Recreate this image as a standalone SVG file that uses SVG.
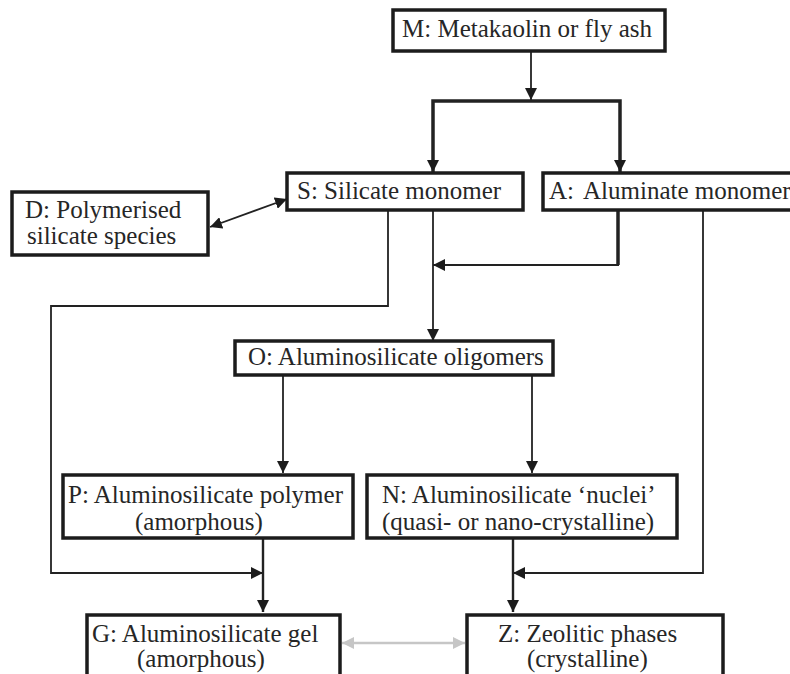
<svg xmlns="http://www.w3.org/2000/svg" width="790" height="674" viewBox="0 0 790 674">
<style>
.box{fill:#fff;stroke:#1c1c1c;stroke-width:3.5}
.t{font-family:"Liberation Serif","Times New Roman",serif;font-size:25px;fill:#262626}
.ln{fill:none;stroke:#222;stroke-width:1.8}
.thk{stroke-width:3.5}
.med{stroke-width:2.4}
.gray{fill:none;stroke:#c6c6c6;stroke-width:2.5}
</style>
<defs>
<marker id="ah" viewBox="0 0 10 10" refX="10" refY="5" markerWidth="12" markerHeight="12" markerUnits="userSpaceOnUse" orient="auto-start-reverse">
<path d="M0,0 L10,5 L0,10 z" fill="#1c1c1c"/>
</marker>
<marker id="ahg" viewBox="0 0 10 10" refX="10" refY="5" markerWidth="12" markerHeight="12" markerUnits="userSpaceOnUse" orient="auto-start-reverse">
<path d="M0,0 L10,5 L0,10 z" fill="#c6c6c6"/>
</marker>
</defs>
<rect width="790" height="674" fill="#fff"/>
<g id="connectors">
<path class="ln" d="M531,51 V100" marker-end="url(#ah)"/>
<path class="ln thk" d="M433,172 V101 H620 V172" marker-start="url(#ah)" marker-end="url(#ah)"/>
<path class="ln" d="M210,227 L287,199" marker-start="url(#ah)" marker-end="url(#ah)"/>
<path class="ln" d="M388,210 V306 H51 V573 H263" marker-end="url(#ah)"/>
<path class="ln" d="M433,210 V341" marker-end="url(#ah)"/>
<path class="ln thk" d="M618,210 V265"/>
<path class="ln" d="M619,265 H433" marker-end="url(#ah)"/>
<path class="ln" d="M703,210 V573 H513" marker-end="url(#ah)"/>
<path class="ln" d="M283,375 V473" marker-end="url(#ah)"/>
<path class="ln" d="M532,375 V473" marker-end="url(#ah)"/>
<path class="ln med" d="M263,538 V612" marker-end="url(#ah)"/>
<path class="ln med" d="M513,538 V612" marker-end="url(#ah)"/>
<path class="gray" d="M342,643 H465" marker-start="url(#ahg)" marker-end="url(#ahg)"/>
</g>
<g id="M"><rect class="box" x="393" y="10" width="272" height="41"/><text class="t" x="402" y="37">M: Metakaolin or fly ash</text></g>
<g id="D"><rect class="box" x="12" y="192" width="196" height="63"/><text class="t" x="25" y="218">D: Polymerised</text><text class="t" x="27" y="244">silicate species</text></g>
<g id="S"><rect class="box" x="287" y="173" width="236" height="37"/><text class="t" x="297" y="199">S: Silicate monomer</text></g>
<g id="A"><rect class="box" x="543" y="173" width="260" height="37"/><text class="t" x="549" y="199">A:<tspan x="583">Aluminate monomer</tspan></text></g>
<g id="O"><rect class="box" x="235" y="341" width="318" height="34"/><text class="t" x="248" y="365">O: Aluminosilicate oligomers</text></g>
<g id="P"><rect class="box" x="63" y="475" width="290" height="63"/><text class="t" x="68" y="503">P: Aluminosilicate polymer</text><text class="t" x="135" y="530">(amorphous)</text></g>
<g id="N"><rect class="box" x="367" y="475" width="310" height="63"/><text class="t" x="382" y="503">N: Aluminosilicate ‘nuclei’</text><text class="t" x="382" y="530">(quasi- or nano-crystalline)</text></g>
<g id="G"><rect class="box" x="87" y="615" width="253" height="80"/><text class="t" x="92" y="642">G: Aluminosilicate gel</text><text class="t" x="137" y="667">(amorphous)</text></g>
<g id="Z"><rect class="box" x="467" y="615" width="256" height="80"/><text class="t" x="498" y="642">Z: Zeolitic phases</text><text class="t" x="527" y="667">(crystalline)</text></g>
</svg>
